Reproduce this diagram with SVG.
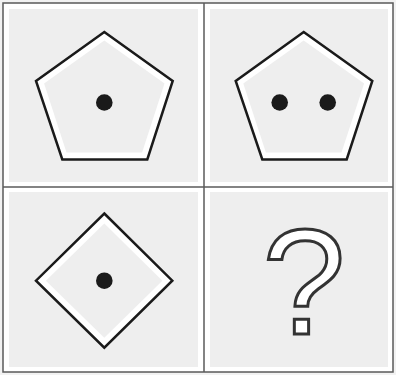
<svg xmlns="http://www.w3.org/2000/svg" width="396" height="375" viewBox="0 0 396 375">
<style>
.cellbg{fill:#ffffff}
.cellin{fill:#eeeeee}
.grid{fill:none;stroke:#5a5a5a;stroke-width:1.5}
.shape{fill:#ffffff;stroke:#1a1a1a;stroke-width:2.5;stroke-linejoin:miter}
.inner{fill:#eeeeee;stroke:none}
.dot{fill:#1a1a1a}
.q{font-family:"Liberation Sans",Arial,sans-serif;font-size:150px;fill:#ffffff;stroke:#333;stroke-width:3;text-anchor:middle}
</style>
<rect x="0" y="0" width="396" height="375" fill="#f2f2f2"/>
<g id="cells">
<rect class="cellbg" x="3" y="3" width="201" height="184"/>
<rect class="cellbg" x="204" y="3" width="189" height="184"/>
<rect class="cellbg" x="3" y="187" width="201" height="185"/>
<rect class="cellbg" x="204" y="187" width="189" height="185"/>
<rect class="cellin" x="9" y="9" width="189" height="173"/>
<rect class="cellin" x="210" y="9" width="178" height="173"/>
<rect class="cellin" x="9" y="192" width="189" height="175"/>
<rect class="cellin" x="210" y="192" width="178" height="175"/>
</g>
<g id="grid">
<rect class="grid" x="3" y="3" width="390" height="369"/>
<line class="grid" x1="204" y1="3" x2="204" y2="372"/>
<line class="grid" x1="3" y1="187" x2="393" y2="187"/>
</g>
<g id="cell1">
<polygon class="shape" points="104.3,32 172.7,81 147.3,159.5 62.3,159.5 36,81"/>
<polygon class="inner" points="104.3,40.4 164.5,83.5 142.1,152.6 66.5,152.6 44.1,83.5"/>
<circle class="dot" cx="104.3" cy="102.5" r="8.3"/>
</g>
<g id="cell2">
<polygon class="shape" points="303.7,32 372.3,81 346.7,159.5 262.3,159.5 235.7,81"/>
<polygon class="inner" points="303.7,40.4 364.1,83.5 341.5,152.6 265.9,152.6 243.3,83.5"/>
<circle class="dot" cx="279.7" cy="102.5" r="8.3"/>
<circle class="dot" cx="327.7" cy="102.5" r="8.3"/>
</g>
<g id="cell3">
<polygon class="shape" points="104.3,213.5 172.3,280.7 104.3,347.7 36,280.7"/>
<polygon class="inner" points="104.3,223.4 162.4,280.7 104.3,337.8 45.9,280.7"/>
<circle class="dot" cx="104.3" cy="280.7" r="8.3"/>
</g>
<g id="cell4">
<text class="q" x="304" y="334">?</text>
</g>
</svg>
